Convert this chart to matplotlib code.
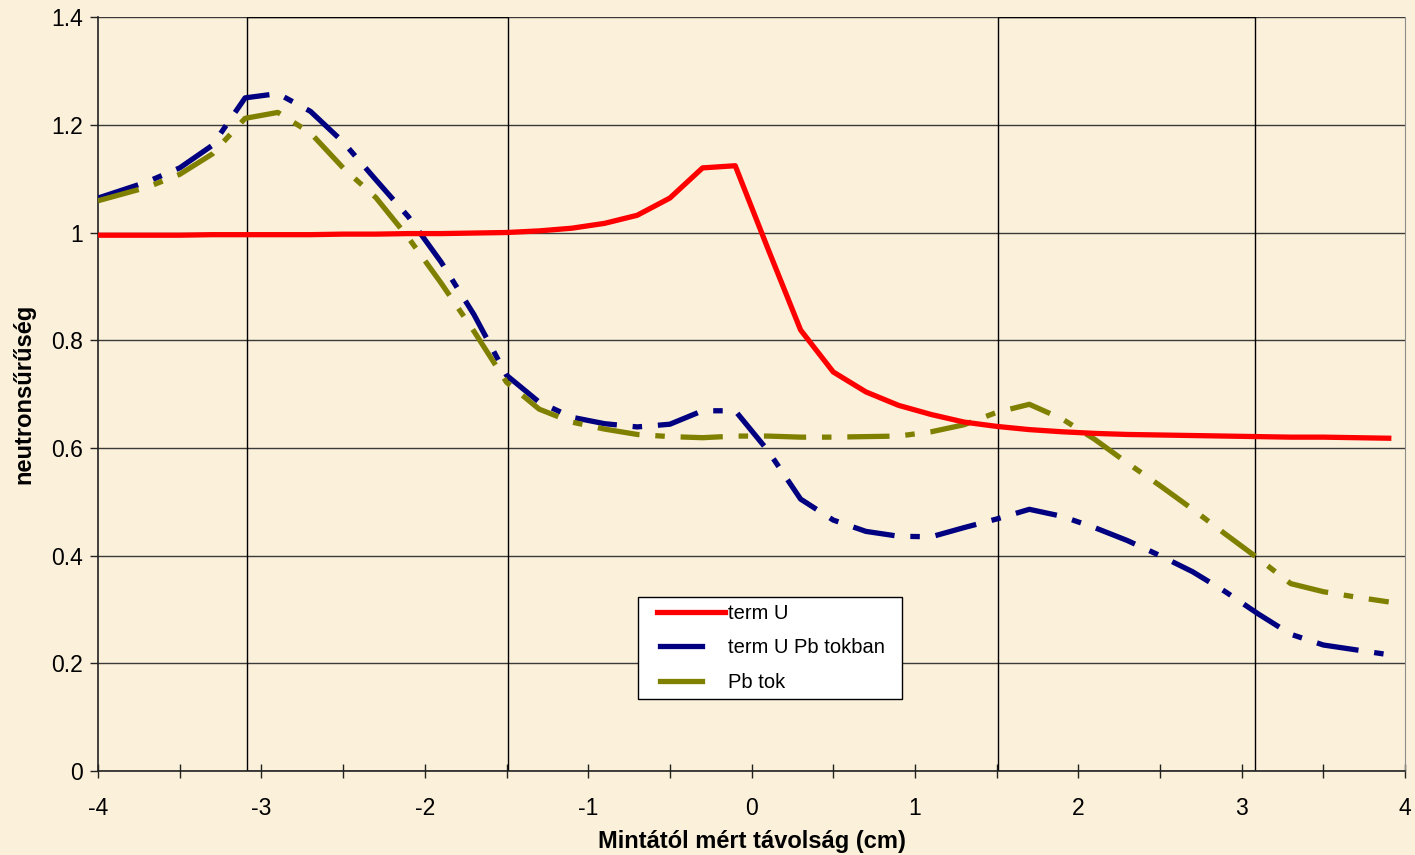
import matplotlib
matplotlib.use("Agg")
import matplotlib.pyplot as plt
from matplotlib.lines import Line2D
from matplotlib.patches import Rectangle
from matplotlib.legend_handler import HandlerBase
from matplotlib.ticker import MultipleLocator, FuncFormatter

plt.rcParams['font.family'] = ['Liberation Sans', 'DejaVu Sans']

# distance from sample (cm)
x = [-4.0, -3.7, -3.5, -3.3, -3.1, -2.9, -2.7, -2.5, -2.3, -2.1,
     -1.9, -1.7, -1.5, -1.3, -1.1, -0.9, -0.7, -0.5, -0.3, -0.1,
     0.1, 0.3, 0.5, 0.7, 0.9, 1.1, 1.3, 1.5, 1.7, 1.9,
     2.1, 2.3, 2.5, 2.7, 2.9, 3.1, 3.3, 3.5, 3.7, 3.9]

term_u = [0.995, 0.995, 0.995, 0.996, 0.996, 0.996, 0.996, 0.997, 0.997, 0.998,
          0.998, 0.999, 1.000, 1.003, 1.008, 1.017, 1.032, 1.064, 1.120, 1.124,
          0.970, 0.819, 0.741, 0.704, 0.679, 0.662, 0.648, 0.640, 0.634, 0.630,
          0.627, 0.625, 0.624, 0.623, 0.622, 0.621, 0.620, 0.620, 0.619, 0.618]

term_u_pb = [1.064, 1.094, 1.120, 1.162, 1.250, 1.258, 1.225, 1.168, 1.098, 1.029,
             0.945, 0.848, 0.735, 0.685, 0.657, 0.645, 0.639, 0.644, 0.669, 0.669,
             0.595, 0.505, 0.466, 0.445, 0.436, 0.435, 0.452, 0.468, 0.486, 0.473,
             0.452, 0.428, 0.400, 0.370, 0.333, 0.292, 0.254, 0.234, 0.225, 0.216]

pb_tok = [1.059, 1.084, 1.108, 1.146, 1.212, 1.223, 1.185, 1.120, 1.065, 0.990,
          0.906, 0.817, 0.722, 0.672, 0.648, 0.635, 0.625, 0.621, 0.619, 0.622,
          0.622, 0.620, 0.620, 0.621, 0.622, 0.630, 0.643, 0.666, 0.681, 0.654,
          0.616, 0.572, 0.530, 0.486, 0.440, 0.395, 0.348, 0.333, 0.323, 0.314]

labels = ["term U", "term U Pb tokban", "Pb tok"]
boxes = [(-3.09, -1.49), (1.51, 3.08)]


class SampleHandler(HandlerBase):
    # legend sample drawn over a part of the handle box only
    def __init__(self, start, end):
        super().__init__()
        self.start, self.end = start, end

    def create_artists(self, legend, orig_handle, xdescent, ydescent,
                       width, height, fontsize, trans):
        y = height / 2 - ydescent
        line = Line2D([self.start * width - xdescent, self.end * width - xdescent], [y, y])
        self.update_prop(line, orig_handle, legend)
        line.set_transform(trans)
        return [line]


bg = '#FBF0DA'
fig = plt.figure(figsize=(14.15, 8.55), dpi=100, facecolor=bg)
ax = fig.add_axes([0.0693, 0.0982, 0.9237, 0.8818])
ax.set_facecolor(bg)

lw = 3.8
dash = [8.0, 3.0, 1.8, 3.0]
ax.plot(x, term_u, color='#FF0000', lw=lw, zorder=4)
l2, = ax.plot(x, term_u_pb, color='#000080', lw=lw, zorder=3, dash_capstyle='butt')
l2.set_dashes(dash)
l3, = ax.plot(x, pb_tok, color='#808000', lw=lw, zorder=3, dash_capstyle='butt')
l3.set_dashes(dash)

for x0, x1 in boxes:
    ax.add_patch(Rectangle((x0, 0), x1 - x0, 1.4, fill=False, ec='black', lw=1.0, zorder=2))

ax.set_xlim(-4, 4)
ax.set_ylim(0, 1.4)
ax.xaxis.set_major_locator(MultipleLocator(1))
ax.xaxis.set_minor_locator(MultipleLocator(0.5))
ax.yaxis.set_major_locator(MultipleLocator(0.2))
ax.yaxis.set_major_formatter(FuncFormatter(lambda v, p: f"{v:g}"))
ax.xaxis.set_major_formatter(FuncFormatter(lambda v, p: f"{v:g}"))

ax.grid(axis='y', color='#3a3a3a', lw=1.0, zorder=1)
ax.set_axisbelow(True)
ax.tick_params(axis='x', which='both', direction='inout', length=10, width=1,
               labelsize=16.5, pad=14, color='#222222')
ax.tick_params(axis='y', which='major', direction='out', length=6, width=1,
               labelsize=16.5, pad=5, color='#222222')

for side in ['left', 'bottom']:
    ax.spines[side].set_color('#222222')
    ax.spines[side].set_linewidth(1.2)
ax.spines['right'].set_color('#8c8c8c')
ax.spines['top'].set_visible(False)

ax.set_xlabel("Mintától mért távolság (cm)", fontsize=17, fontweight='bold', labelpad=7)
ax.set_ylabel("neutronsűrűség", fontsize=17, fontweight='bold', labelpad=11)

handles = [Line2D([], [], color='#FF0000', lw=lw),
           Line2D([], [], color='#000080', lw=lw),
           Line2D([], [], color='#808000', lw=lw)]
hmap = {handles[0]: SampleHandler(0.15, 1.0),
        handles[1]: SampleHandler(0.19, 0.71),
        handles[2]: SampleHandler(0.19, 0.71)}
leg = ax.legend(handles, labels, handler_map=hmap, loc='upper left',
                bbox_to_anchor=(0.4132, 0.0981, 0.2019, 0.1327), mode='expand',
                borderaxespad=0, fontsize=14.5, frameon=True, fancybox=False,
                framealpha=1, edgecolor='black', handlelength=3.95, handletextpad=0.15,
                labelspacing=0.76, borderpad=0.35)
leg.get_frame().set_linewidth(1.0)
leg.set_zorder(5)

fig.savefig("out.png", dpi=100, facecolor=bg)
